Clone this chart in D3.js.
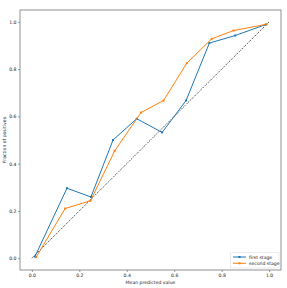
<!DOCTYPE html>
<html><head><meta charset="utf-8">
<script src="https://cdn.jsdelivr.net/npm/d3@7"></script>
<style>body{margin:0;background:#fff}svg{display:block;font-family:"DejaVu Sans",sans-serif}</style>
</head><body>
<svg id="c" width="287" height="288"></svg>
<script>
const seriesNames = ["first stage", "second stage"];
const seriesColors = ["#1f77b4", "#ff7f0e"];
const firstX  = [0.013, 0.148, 0.249, 0.342, 0.442, 0.549, 0.650, 0.748, 0.857, 0.985];
const firstY  = [0.007, 0.296, 0.259, 0.500, 0.590, 0.532, 0.667, 0.910, 0.942, 0.988];
const secondX = [0.018, 0.140, 0.247, 0.349, 0.460, 0.555, 0.653, 0.758, 0.850, 0.990];
const secondY = [0.004, 0.210, 0.243, 0.454, 0.616, 0.667, 0.825, 0.928, 0.963, 0.990];
const ticks = [0.0, 0.2, 0.4, 0.6, 0.8, 1.0];
const diagonal = [0, 1];

const svg = d3.select("#c");
const L = 20, R = 281, T = 10, B = 270;
const x = d3.scaleLinear().domain([-0.05, 1.05]).range([L, R]);
const y = d3.scaleLinear().domain([-0.05, 1.05]).range([B, T]);

// diagonal
svg.append("line")
  .attr("x1", x(diagonal[0])).attr("y1", y(diagonal[0]))
  .attr("x2", x(diagonal[1])).attr("y2", y(diagonal[1]))
  .attr("stroke", "#000").attr("stroke-width", 0.9).attr("stroke-dasharray", "1,1.3");

const data = [firstX.map((v,i)=>[v, firstY[i]]), secondX.map((v,i)=>[v, secondY[i]])];
const line = d3.line().x(d=>x(d[0])).y(d=>y(d[1]));
data.forEach((s, k) => {
  svg.append("path").attr("d", line(s)).attr("fill", "none")
    .attr("stroke", seriesColors[k]).attr("stroke-width", 1);
  svg.selectAll(null).data(s).enter().append("rect")
    .attr("x", d=>x(d[0])-1).attr("y", d=>y(d[1])-1)
    .attr("width", 2).attr("height", 2).attr("fill", seriesColors[k]);
});

// axes
const xa = svg.append("g").attr("transform", `translate(0,${B})`)
  .call(d3.axisBottom(x).tickValues(ticks).tickFormat(d3.format(".1f")).tickSize(2).tickPadding(1.5));
const ya = svg.append("g").attr("transform", `translate(${L},0)`)
  .call(d3.axisLeft(y).tickValues(ticks).tickFormat(d3.format(".1f")).tickSize(2).tickPadding(1.5));
[xa, ya].forEach(a => {
  a.select(".domain").remove();
  a.selectAll("line").attr("stroke", "#555").attr("stroke-width", 0.6);
  a.selectAll("text").attr("font-size", 4.6).attr("fill", "#222").attr("font-family", "DejaVu Sans");
});
svg.append("rect").attr("x", L).attr("y", T).attr("width", R-L).attr("height", B-T)
  .attr("fill", "none").attr("stroke", "#777").attr("stroke-width", 0.8);

svg.append("text").attr("x", (L+R)/2).attr("y", 283.5).attr("text-anchor", "middle")
  .attr("font-size", 4.6).attr("fill", "#222").text("Mean predicted value");
svg.append("text").attr("transform", `translate(6,${(T+B)/2}) rotate(-90)`).attr("text-anchor", "middle")
  .attr("font-size", 4.6).attr("fill", "#222").text("Fraction of positives");

// legend
const lg = svg.append("g");
lg.append("rect").attr("x", 230.5).attr("y", 252.5).attr("width", 48.5).attr("height", 15.5)
  .attr("fill", "#fff").attr("stroke", "#ddd").attr("stroke-width", 0.6).attr("rx", 1);
seriesNames.forEach((n, i) => {
  const yy = 257 + i*6.3;
  lg.append("line").attr("x1", 233).attr("x2", 246).attr("y1", yy).attr("y2", yy)
    .attr("stroke", seriesColors[i]).attr("stroke-width", 1);
  lg.append("rect").attr("x", 238.5).attr("y", yy-1).attr("width", 2).attr("height", 2).attr("fill", seriesColors[i]);
  lg.append("text").attr("x", 249).attr("y", yy+1.6).attr("font-size", 4.6).attr("fill", "#222").text(n);
});
</script>
</body></html>
